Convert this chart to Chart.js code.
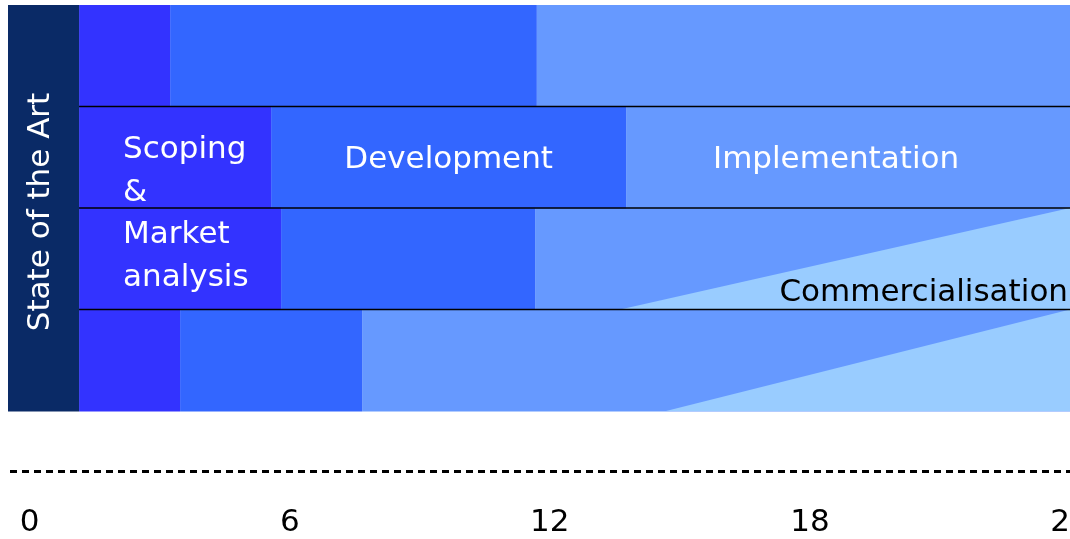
<!DOCTYPE html>
<html>
<head>
<meta charset="utf-8">
<script src="https://cdn.jsdelivr.net/npm/chart.js@4/dist/chart.umd.min.js"></script>
<style>
    html, body { margin: 0; padding: 0; background: #fff; }
    #wrap { width: 1070px; height: 539px; }
</style>
</head>
<body>
<div id="wrap"><canvas id="planChart"></canvas></div>
<script>
// months on the time axis
var monthTicks = [0, 6, 12, 18, 24];
var monthMin = -0.5;
var monthMax = 24;

// the four rows of the plan (centre of each row on the y scale)
var rowCentres = [0.5, 1.5, 2.5, 3.5];
var rowBoundaries = [1, 2, 3];
var rowScaleMax = 4.611;
var timelineRow = 4.596; // dashed time line under the rows

// phase boundaries per row, in months
var stateOfArtStart = [-0.5, -0.5, -0.5, -0.5];
var stateOfArtEnd = [1.14, 1.14, 1.14, 1.14];
var scopingEnd = [3.24, 5.57, 5.80, 3.47];
var developmentEnd = [11.70, 13.76, 11.66, 7.67];
var implementationEnd = [24, 24, 24, 24];
var commercialStart = [null, null, 13.62, 14.68];

var phaseNames = {
    stateOfArt: 'State of the Art',
    scoping: ['Scoping', '&', 'Market', 'analysis'],
    development: 'Development',
    implementation: 'Implementation',
    commercialisation: 'Commercialisation'
};

var colours = {
    stateOfArt: '#0a2a66',
    scoping: '#3333ff',
    development: '#3366ff',
    implementation: '#6699ff',
    commercialisation: '#99ccff'
};

var FONT = '"DejaVu Sans", Verdana, sans-serif';

function floating(starts, ends) {
    return rowCentres.map(function (y, i) {
        return { x: [starts[i], ends[i]], y: y };
    });
}

function barSet(label, starts, ends, colour) {
    return {
        type: 'bar',
        label: label,
        indexAxis: 'y',
        data: floating(starts, ends),
        backgroundColor: colour,
        borderWidth: 0,
        grouped: false,
        categoryPercentage: 1,
        barPercentage: 1.01,
        order: 3
    };
}

var datasets = [
    barSet('State of the Art', stateOfArtStart, stateOfArtEnd, colours.stateOfArt),
    barSet('Scoping', stateOfArtEnd, scopingEnd, colours.scoping),
    barSet('Development', scopingEnd, developmentEnd, colours.development),
    barSet('Implementation', developmentEnd, implementationEnd, colours.implementation)
];

// commercialisation wedges, growing towards the end of the project
rowCentres.forEach(function (y, i) {
    if (commercialStart[i] === null) return;
    datasets.push({
        type: 'line',
        label: 'Commercialisation ' + (i + 1),
        data: [
            { x: commercialStart[i], y: y + 0.5 },
            { x: implementationEnd[i], y: y - 0.5 }
        ],
        borderWidth: 0,
        pointRadius: 0,
        tension: 0,
        backgroundColor: colours.commercialisation,
        fill: { value: y + 0.5 },
        order: 2
    });
});

// black lines between the rows
rowBoundaries.forEach(function (y) {
    datasets.push({
        type: 'line',
        label: 'row ' + y,
        data: [{ x: stateOfArtEnd[0], y: y }, { x: monthMax, y: y }],
        borderColor: '#000',
        borderWidth: 1.6,
        pointRadius: 0,
        fill: false,
        order: 1
    });
});

// dashed time line
datasets.push({
    type: 'line',
    label: 'timeline',
    data: [{ x: monthMin, y: timelineRow }, { x: monthMax, y: timelineRow }],
    borderColor: '#000',
    borderWidth: 3,
    borderDash: [7, 5],
    borderDashOffset: 10,
    pointRadius: 0,
    fill: false,
    order: 1
});

var phaseText = {
    id: 'phaseText',
    afterDatasetsDraw: function (chart) {
        var c = chart.ctx;
        var x = chart.scales.x;
        var y = chart.scales.y;
        c.save();
        c.font = '31px ' + FONT;

        // rotated label in the left column
        var cx = (x.getPixelForValue(stateOfArtStart[0]) + x.getPixelForValue(stateOfArtEnd[0])) / 2 - 3;
        var cy = (y.getPixelForValue(0) + y.getPixelForValue(4)) / 2 + 4;
        c.fillStyle = '#fff';
        c.translate(cx, cy);
        c.rotate(-Math.PI / 2);
        c.textAlign = 'center';
        c.textBaseline = 'middle';
        c.fillText(phaseNames.stateOfArt, 0, 0);
        c.setTransform(1, 0, 0, 1, 0, 0);

        // scoping block spans rows 2 and 3
        c.textAlign = 'left';
        var left = x.getPixelForValue(stateOfArtEnd[1]) + 44;
        var mid = y.getPixelForValue(2) + 6;
        var lh = 42.5;
        phaseNames.scoping.forEach(function (t, i) {
            c.fillText(t, left, mid + (i - 1.5) * lh);
        });

        c.textAlign = 'center';
        var rowMid = y.getPixelForValue(rowCentres[1]) + 3;
        c.fillText(phaseNames.development,
            x.getPixelForValue((scopingEnd[1] + developmentEnd[1]) / 2), rowMid);
        c.fillText(phaseNames.implementation,
            x.getPixelForValue((developmentEnd[1] + implementationEnd[1]) / 2) - 12, rowMid);

        c.fillStyle = '#000';
        c.textAlign = 'right';
        c.textBaseline = 'alphabetic';
        c.fillText(phaseNames.commercialisation, chart.chartArea.right - 2, y.getPixelForValue(3) - 8);
        c.restore();
    }
};

var config = {
    type: 'bar',
    data: { datasets: datasets },
    options: {
        responsive: true,
        maintainAspectRatio: false,
        animation: false,
        layout: { padding: { left: 8, top: 5, right: 0, bottom: 0 } },
        plugins: {
            legend: { display: false },
            tooltip: { enabled: false }
        },
        scales: {
            x: {
                type: 'linear',
                position: 'bottom',
                offset: false,
                min: monthMin,
                max: monthMax,
                afterBuildTicks: function (axis) {
                    axis.ticks = monthTicks.map(function (v) { return { value: v }; });
                },
                afterFit: function (axis) {
                    axis.paddingLeft = 0;
                    axis.paddingRight = 0;
                    axis.height = 66;
                },
                grid: { display: false, drawTicks: false, offset: false },
                border: { display: false },
                ticks: {
                    padding: 34,
                    color: '#000',
                    maxRotation: 0,
                    autoSkip: false,
                    font: { family: FONT, size: 31, lineHeight: 1 }
                }
            },
            y: {
                type: 'linear',
                reverse: true,
                offset: false,
                min: 0,
                max: rowScaleMax,
                display: false,
                grid: { offset: false },
                afterBuildTicks: function (axis) {
                    axis.ticks = [0, 1, 2, 3, 4].map(function (v) { return { value: v }; });
                }
            }
        }
    },
    plugins: [phaseText]
};

window.planChart = new Chart(document.getElementById('planChart').getContext('2d'), config);
</script>
</body>
</html>
